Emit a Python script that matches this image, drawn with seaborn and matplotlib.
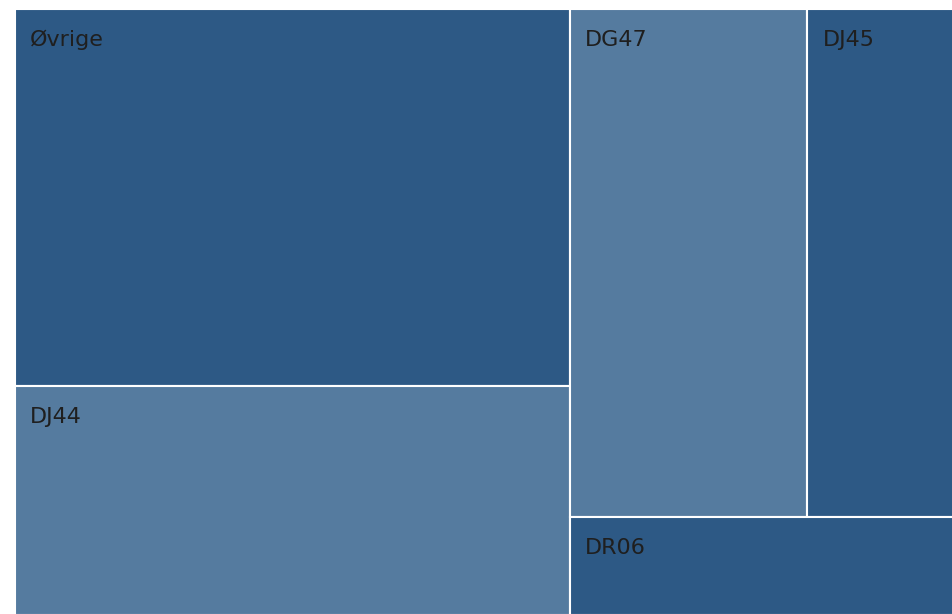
import matplotlib
matplotlib.use("Agg")
import matplotlib.pyplot as plt
from matplotlib.patches import Rectangle
import seaborn as sns

# Data (share of total)
labels = ["Øvrige", "DJ44", "DG47", "DJ45", "DR06"]
values = [36.8, 22.3, 21.2, 13.1, 6.6]
shades = ["dark", "light", "light", "dark", "dark"]

palette = {"dark": "#2d5985", "light": "#557b9f"}


def layout(vals, width, height):
    # left column: first two tiles stacked; right: row of two on top, one below
    total = sum(vals)
    left_w = width * (vals[0] + vals[1]) / total
    h0 = height * vals[0] / (vals[0] + vals[1])
    right_w = width - left_w
    top_h = height * (vals[2] + vals[3]) / (vals[2] + vals[3] + vals[4])
    w2 = right_w * vals[2] / (vals[2] + vals[3])
    return [
        (0, 0, left_w, h0),
        (0, h0, left_w, height - h0),
        (left_w, 0, w2, top_h),
        (left_w + w2, 0, right_w - w2, top_h),
        (left_w, top_h, right_w, height - top_h),
    ]


def main():
    sns.set_theme(style="white")
    plt.rcParams["font.family"] = ["DejaVu Sans"]

    W, H = 937, 604
    fig = plt.figure(figsize=(9.53, 6.14), dpi=100)
    ax = fig.add_axes([16 / 953, 0, W / 953, H / 614])
    # trim a pixel so the white borders only show between tiles
    ax.set_xlim(1, W - 1)
    ax.set_ylim(H - 1, 1)
    ax.axis("off")

    for lab, shade, (x, y, w, h) in zip(labels, shades, layout(values, W, H)):
        ax.add_patch(Rectangle((x, y), w, h, facecolor=palette[shade],
                               edgecolor="white", linewidth=1.5))
        ax.annotate(lab, xy=(x, y), xytext=(11, -26.4), textcoords="offset points",
                    ha="left", va="baseline", fontsize=16, color="#1f1f1f",
                    annotation_clip=False)

    fig.savefig("out.png", dpi=100)


if __name__ == "__main__":
    main()
